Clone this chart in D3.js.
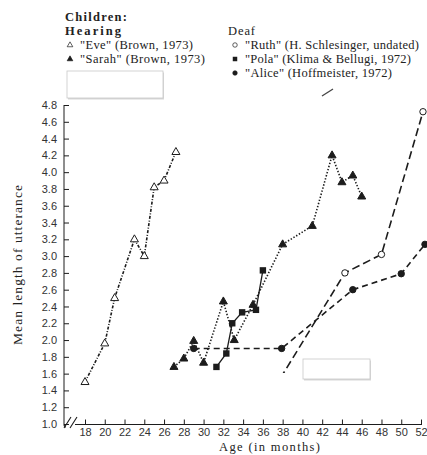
<!DOCTYPE html>
<html>
<head>
<meta charset="utf-8">
<script src="https://cdn.jsdelivr.net/npm/d3@7"></script>
<style>
    body { margin: 0; background: #fff; }
    svg { display: block; font-family: "Liberation Serif", "DejaVu Serif", serif; }
    .tick-label { font-size: 11px; fill: #333; }
    .legend { font-size: 12.5px; fill: #222; }
</style>
</head>
<body>
<div class="chart"></div>
<script>

//////////
// DATA //
//////////

var yTicks = [1.0, 1.2, 1.4, 1.6, 1.8, 2.0, 2.2, 2.4, 2.6, 2.8, 3.0, 3.2, 3.4, 3.6, 3.8, 4.0, 4.2, 4.4, 4.6, 4.8];
var xTicks = [18, 20, 22, 24, 26, 28, 30, 32, 34, 36, 38, 40, 42, 44, 46, 48, 50, 52];

// hearing
var eveAge = [18, 20, 21, 23, 24, 25, 26, 27.2];
var eveMlu = [1.5, 1.96, 2.5, 3.2, 3.0, 3.82, 3.9, 4.24];

var sarahAge = [27, 28, 29, 30, 32, 33.1, 35, 38, 41, 43, 44, 45.1, 46];
var sarahMlu = [1.68, 1.78, 1.99, 1.73, 2.46, 2.0, 2.42, 3.14, 3.36, 4.2, 3.88, 3.96, 3.71];

// deaf
var ruthAge = [36.5, 44.3, 48, 52.2];
var ruthMlu = [1.3, 2.8, 3.02, 4.72];

var polaAge = [31.3, 32.3, 32.9, 33.9, 35.3, 36];
var polaMlu = [1.68, 1.84, 2.2, 2.33, 2.36, 2.83];

var aliceAge = [29, 37.9, 45.1, 50, 52.4];
var aliceMlu = [1.9, 1.9, 2.6, 2.79, 3.14];

/////////////////
// PAGE SET UP //
/////////////////

var w = 427,
    h = 455,
    ink = '#1c1c1c';

var svg = d3.select('.chart')
    .append('svg')
    .attr('width', w)
    .attr('height', h);

////////////
// SCALES //
////////////

var xScale = d3.scaleLinear()
    .domain([18, 52])
    .range([85, 421]);

var yScale = d3.scaleLinear()
    .domain([1.0, 4.8])
    .range([424, 105]);

//////////
// AXES //
//////////

var yAxis = d3.axisLeft(yScale)
    .tickValues(yTicks)
    .tickSize(-5)
    .tickPadding(7)
    .tickFormat(d3.format('.1f'));

var gy = svg.append('g')
    .attr('transform', 'translate(64,0)')
    .call(yAxis);

gy.select('.domain').remove();
gy.selectAll('line').attr('stroke', ink);
gy.selectAll('text').attr('class', 'tick-label').attr('fill', '#333');

svg.append('line')
    .attr('x1', 64).attr('x2', 64)
    .attr('y1', yScale(4.8)).attr('y2', 424)
    .attr('stroke', ink);

var xAxis = d3.axisBottom(xScale)
    .tickValues(xTicks)
    .tickSize(-5)
    .tickPadding(4);

var gx = svg.append('g')
    .attr('transform', 'translate(0,424.5)')
    .call(xAxis);

gx.select('.domain').remove();
gx.selectAll('line').attr('stroke', ink);
gx.selectAll('text').attr('class', 'tick-label').attr('fill', '#333');

svg.append('line')
    .attr('x1', 75).attr('x2', xScale(52) + 1)
    .attr('y1', 424.5).attr('y2', 424.5)
    .attr('stroke', ink);

// axis break marks
svg.append('path')
    .attr('d', 'M64,424 Q64,427 66,427 M64,428 L71,417 M70,428 L77,417')
    .attr('fill', 'none')
    .attr('stroke', ink)
    .attr('stroke-width', 1.1);

// axis titles
svg.append('text')
    .attr('x', 219).attr('y', 450.5)
    .attr('textLength', 101)
    .style('font-size', '12.5px')
    .attr('fill', '#222')
    .text('Age (in months)');

svg.append('text')
    .attr('transform', 'translate(22,345) rotate(-90)')
    .attr('textLength', 160)
    .style('font-size', '13.5px')
    .attr('fill', '#222')
    .text('Mean length of utterance');

///////////
// LINES //
///////////

var line = d3.line()
    .x(function(d) { return xScale(d[0]); })
    .y(function(d) { return yScale(d[1]); });

function pairs(ages, mlus) {
    return ages.map(function(a, i) { return [a, mlus[i]]; });
}

var series = [
    { name: 'eve', data: pairs(eveAge, eveMlu), dash: '3,1.6,1,1.6', shape: 'triOpen' },
    { name: 'sarah', data: pairs(sarahAge, sarahMlu), dash: '1.4,1.8', shape: 'triFilled' },
    { name: 'ruth', data: pairs(ruthAge, ruthMlu), dash: '8,4', shape: 'circleOpen' },
    { name: 'pola', data: pairs(polaAge, polaMlu), dash: null, shape: 'square' },
    { name: 'alice', data: pairs(aliceAge, aliceMlu), dash: '6,4', shape: 'circleFilled' }
];

series.forEach(function(s) {
    svg.append('path')
        .datum(s.data)
        .attr('class', 'line ' + s.name)
        .attr('d', line)
        .attr('fill', 'none')
        .attr('stroke', ink)
        .attr('stroke-width', s.name === 'pola' ? 1.3 : 1.6)
        .attr('stroke-dasharray', s.dash);
});

/////////////
// MARKERS //
/////////////

function drawMarker(g, shape, x, y) {
    if (shape === 'triOpen' || shape === 'triFilled') {
        g.append('path')
            .attr('d', 'M' + x + ',' + (y - 4.5) + 'L' + (x + 4) + ',' + (y + 2.5) + 'L' + (x - 4) + ',' + (y + 2.5) + 'Z')
            .attr('fill', shape === 'triOpen' ? '#fff' : ink)
            .attr('stroke', ink)
            .attr('stroke-width', 1);
    } else if (shape === 'square') {
        g.append('rect')
            .attr('x', x - 3.2).attr('y', y - 3.2)
            .attr('width', 6.4).attr('height', 6.4)
            .attr('fill', ink);
    } else {
        g.append('circle')
            .attr('cx', x).attr('cy', y)
            .attr('r', 3.2)
            .attr('fill', shape === 'circleOpen' ? '#fff' : ink)
            .attr('stroke', ink)
            .attr('stroke-width', 1);
    }
}

var markers = svg.append('g').attr('class', 'markers');

series.forEach(function(s) {
    s.data.forEach(function(d) {
        drawMarker(markers, s.shape, xScale(d[0]), yScale(d[1]));
    });
});

////////////
// LEGEND //
////////////

var legend = svg.append('g').attr('class', 'legend');

legend.append('text').attr('x', 65).attr('y', 21)
    .attr('textLength', 62)
    .style('font-weight', 'bold').text('Children:');
legend.append('text').attr('x', 65).attr('y', 35)
    .attr('textLength', 56)
    .style('font-weight', 'bold').text('Hearing');
legend.append('text').attr('x', 228).attr('y', 35)
    .attr('textLength', 27)
    .text('Deaf');

var legendItems = [
    { x: 70, y: 45, len: 113, shape: 'triOpen', label: '"Eve" (Brown, 1973)' },
    { x: 70, y: 59, len: 125, shape: 'triFilled', label: '"Sarah" (Brown, 1973)' },
    { x: 235, y: 45, len: 174, shape: 'circleOpen', label: '"Ruth" (H. Schlesinger, undated)' },
    { x: 235, y: 59, len: 166, shape: 'square', label: '"Pola" (Klima & Bellugi, 1972)' },
    { x: 235, y: 73, len: 147, shape: 'circleFilled', label: '"Alice" (Hoffmeister, 1972)' }
];

legendItems.forEach(function(d) {
    var g = legend.append('g');
    drawMarker(g, d.shape, d.x, d.y);
    g.select('*').attr('transform', 'translate(' + d.x + ',' + d.y + ') scale(0.7) translate(' + (-d.x) + ',' + (-d.y) + ')');
    legend.append('text')
        .attr('x', d.x + 10).attr('y', d.y + 4)
        .attr('textLength', d.len)
        .text(d.label);
});

////////////////////////////
// SCAN PATCHES / ARTEFACT //
////////////////////////////

// big blank patch over the lower middle
svg.append('rect')
    .attr('x', 148).attr('y', 373)
    .attr('width', 232).attr('height', 40)
    .attr('fill', '#fff');

// boxed patches
[[67, 71, 96, 27], [303, 359, 67, 20]].forEach(function(b) {
    svg.append('rect')
        .attr('x', b[0] + 1).attr('y', b[1] + 1.5)
        .attr('width', b[2]).attr('height', b[3])
        .attr('fill', '#d8d8d8');
    svg.append('rect')
        .attr('x', b[0]).attr('y', b[1])
        .attr('width', b[2]).attr('height', b[3])
        .attr('fill', '#fff')
        .attr('stroke', '#c8c8c8')
        .attr('stroke-width', 0.8);
});

// stray pen mark
svg.append('path')
    .attr('d', 'M322,96 L333,89')
    .attr('stroke', '#444')
    .attr('stroke-width', 1.3);

</script>
</body>
</html>
